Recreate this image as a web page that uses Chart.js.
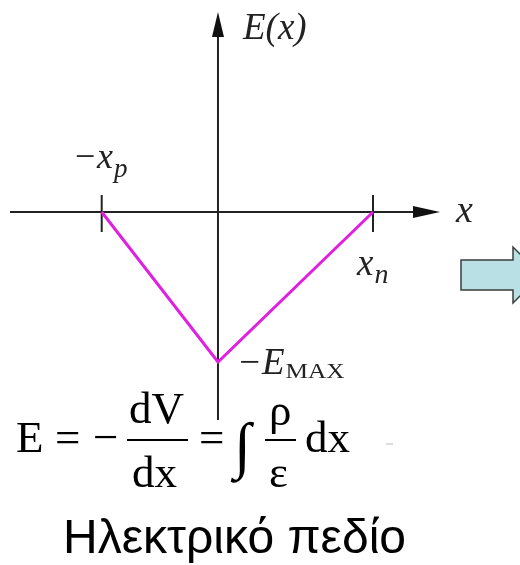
<!DOCTYPE html>
<html lang="el">
<head>
    <meta charset="UTF-8">
    <title>Ηλεκτρικό πεδίο</title>
    <script src="https://cdn.jsdelivr.net/npm/chart.js"></script>
    <style>
        html, body {
            margin: 0;
            padding: 0;
            background: #ffffff;
        }
    </style>
</head>
<body>
    <canvas id="fieldChart" width="520" height="565"></canvas>

    <script>
        // Data (x in units of xn, E in units of E_MAX)
        const fieldX = [-0.75, 0, 1.0];
        const fieldE = [0, -1.0, 0];

        // Tick labels on the x axis: main text + subscript
        const tickValues = [-0.75, 1.0];
        const tickMain = ['\u2212x', 'x'];
        const tickSub = ['p', 'n'];

        const axisTitleX = 'x';
        const axisTitleY = 'E(x)';
        const minLabel = ['\u2212E', 'MAX'];
        const caption = 'Ηλεκτρικό πεδίο';

        const serif = '"Liberation Serif", "DejaVu Serif", serif';

        function arrowLine(ctx, x1, y1, x2, y2, headLen, headHalf) {
            const ang = Math.atan2(y2 - y1, x2 - x1);
            const bx = x2 - headLen * Math.cos(ang);
            const by = y2 - headLen * Math.sin(ang);
            ctx.beginPath();
            ctx.moveTo(x1, y1);
            ctx.lineTo(bx, by);
            ctx.stroke();
            ctx.beginPath();
            ctx.moveTo(x2, y2);
            ctx.lineTo(bx + headHalf * Math.sin(ang), by - headHalf * Math.cos(ang));
            ctx.lineTo(bx - headHalf * Math.sin(ang), by + headHalf * Math.cos(ang));
            ctx.closePath();
            ctx.fill();
        }

        // main text followed by a subscript, sub may be stretched sideways
        function subText(ctx, main, sub, x, y, mainFont, subFont, dy, subStretch) {
            ctx.font = mainFont;
            ctx.fillText(main, x, y);
            const w = ctx.measureText(main).width;
            ctx.font = subFont;
            ctx.save();
            ctx.translate(x + w + 1, y + dy);
            ctx.scale(subStretch || 1, 1);
            ctx.fillText(sub, 0, 0);
            ctx.restore();
        }

        const axesPlugin = {
            id: 'axesPlugin',
            beforeDatasetsDraw(chart) {
                const ctx = chart.ctx;
                const sx = chart.scales.x, sy = chart.scales.y;
                const x0 = sx.getPixelForValue(0);
                const y0 = sy.getPixelForValue(0);
                ctx.save();
                ctx.strokeStyle = '#222';
                ctx.fillStyle = '#111';
                ctx.lineWidth = 2;
                // horizontal axis
                arrowLine(ctx, 10, y0, 440, y0, 27, 6);
                // vertical axis
                arrowLine(ctx, x0, 420, x0, 12, 25, 6);
                // tick marks at -xp and xn
                tickValues.forEach(v => {
                    const px = sx.getPixelForValue(v);
                    ctx.beginPath();
                    ctx.moveTo(px, y0 - 17);
                    ctx.lineTo(px, y0 + 20);
                    ctx.stroke();
                });
                ctx.restore();
            },
            afterDatasetsDraw(chart) {
                const ctx = chart.ctx;
                const sx = chart.scales.x, sy = chart.scales.y;
                const x0 = sx.getPixelForValue(0);
                const y0 = sy.getPixelForValue(0);
                ctx.save();
                ctx.fillStyle = '#222';
                ctx.textBaseline = 'alphabetic';
                ctx.textAlign = 'left';

                // axis titles
                ctx.font = 'italic 37px ' + serif;
                ctx.fillText(axisTitleY, x0 + 25, 39);
                ctx.font = 'italic 38px ' + serif;
                ctx.fillText(axisTitleX, 456, y0 + 10);

                // tick labels
                const pxP = sx.getPixelForValue(tickValues[0]);
                subText(ctx, tickMain[0], tickSub[0], pxP - 29, y0 - 44,
                    'italic 36px ' + serif, 'italic 27px ' + serif, 9);
                const pxN = sx.getPixelForValue(tickValues[1]);
                subText(ctx, tickMain[1], tickSub[1], pxN - 16, y0 + 63,
                    'italic 37px ' + serif, 'italic 28px ' + serif, 8);

                // minimum label
                const yMinPx = sy.getPixelForValue(fieldE[1]);
                subText(ctx, minLabel[0], minLabel[1], x0 + 19, yMinPx + 12,
                    'italic 37px ' + serif, '22px ' + serif, 4, 1.15);

                // formula E = -dV/dx = ∫ ρ/ε dx
                ctx.fillStyle = '#000';
                ctx.font = '45px ' + serif;
                ctx.fillText('E', 16, 452);
                ctx.fillText('=', 55, 452);
                ctx.fillText('\u2212', 93, 452);
                ctx.fillText('dV', 129, 423);
                ctx.fillText('dx', 132, 487);
                ctx.fillText('=', 199, 452);
                ctx.fillText('dx', 305, 452);
                ctx.fillText('\u03c1', 269, 425);
                ctx.fillText('\u03b5', 269, 487);
                ctx.font = '62px ' + serif;
                ctx.fillText('\u222b', 234, 466);
                ctx.lineWidth = 2;
                ctx.strokeStyle = '#000';
                ctx.beginPath();
                ctx.moveTo(127, 440); ctx.lineTo(188, 440);
                ctx.moveTo(265, 440); ctx.lineTo(296, 440);
                ctx.stroke();
                ctx.strokeStyle = '#bbb';
                ctx.lineWidth = 1;
                ctx.beginPath();
                ctx.moveTo(386, 444); ctx.lineTo(393, 444);
                ctx.stroke();

                // caption
                ctx.fillStyle = '#000';
                ctx.font = '48px "Liberation Sans", Arial, sans-serif';
                ctx.fillText(caption, 63, 553);

                // block arrow on the right
                ctx.beginPath();
                ctx.moveTo(461, 260);
                ctx.lineTo(513, 260);
                ctx.lineTo(513, 247);
                ctx.lineTo(541, 275);
                ctx.lineTo(513, 303);
                ctx.lineTo(513, 290);
                ctx.lineTo(461, 290);
                ctx.closePath();
                ctx.fillStyle = '#b9e0e4';
                ctx.fill();
                ctx.strokeStyle = '#3c3c3c';
                ctx.lineWidth = 1.5;
                ctx.stroke();
                ctx.restore();
            }
        };

        const points = fieldX.map((x, i) => ({ x: x, y: fieldE[i] }));

        const config = {
            type: 'scatter',
            data: {
                datasets: [{
                    data: points,
                    showLine: true,
                    borderColor: '#e020e0',
                    borderWidth: 3,
                    pointRadius: 0,
                    tension: 0
                }]
            },
            options: {
                responsive: false,
                animation: false,
                layout: { padding: 0 },
                plugins: {
                    legend: { display: false },
                    tooltip: { enabled: false }
                },
                scales: {
                    x: { type: 'linear', display: false, min: -1.406, max: 1.948 },
                    y: { type: 'linear', display: false, min: -2.353, max: 1.413 }
                }
            },
            plugins: [axesPlugin]
        };

        new Chart(document.getElementById('fieldChart'), config);
    </script>
</body>
</html>
